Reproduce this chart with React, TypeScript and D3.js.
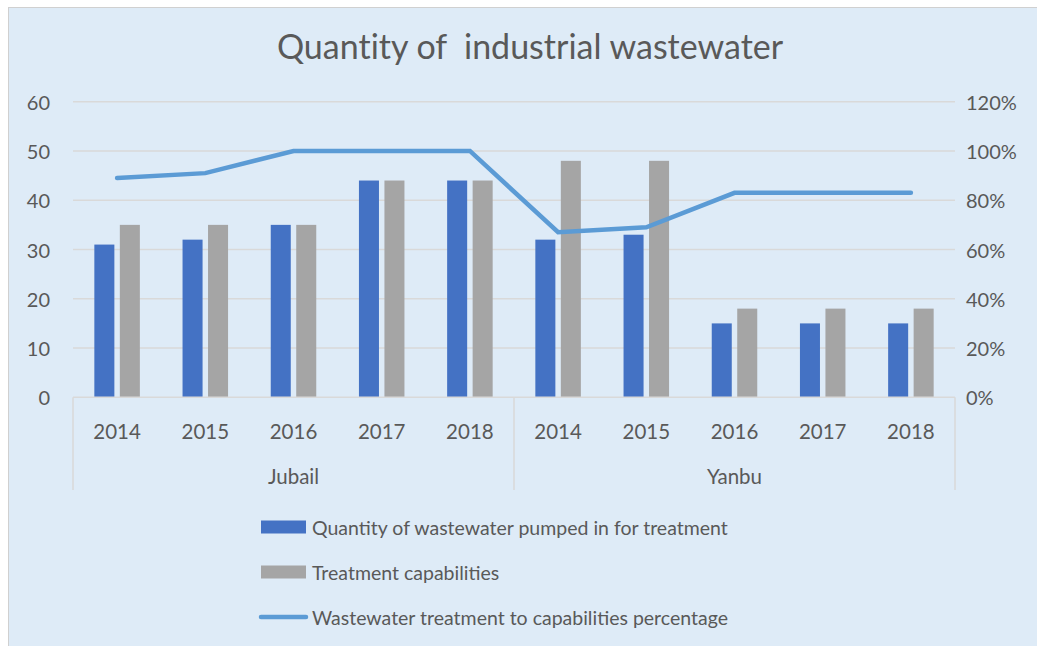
import { useEffect, useRef } from "react";
import * as d3 from "d3";

// data
const GROUPS = ["Jubail", "Yanbu"];
const YEARS = ["2014", "2015", "2016", "2017", "2018"];
const PUMPED = [31, 32, 35, 44, 44, 32, 33, 15, 15, 15];
const CAPACITY = [35, 35, 35, 44, 44, 48, 48, 18, 18, 18];
const RATIO = [0.89, 0.91, 1, 1, 1, 0.67, 0.69, 0.83, 0.83, 0.83];
const Y_TICKS = [0, 10, 20, 30, 40, 50, 60];
const Y2_TICKS = [0, 0.2, 0.4, 0.6, 0.8, 1.0, 1.2];

const SERIES_NAMES = [
  "Quantity of wastewater pumped in for treatment",
  "Treatment capabilities",
  "Wastewater treatment to capabilities percentage",
];

const W = 1037;
const H = 646;
const LEFT = 73;
const RIGHT = 955;
const TOP = 101.7;
const BOTTOM = 397.3;

const BLUE = "#4472C4";
const GRAY = "#A5A5A5";
const LINE = "#5B9BD5";
const BG = "#DEEBF7";
const GRID = "#D9D9D9";
const TEXT = "#595959";
const FONT = "Lato, 'Open Sans', sans-serif";

export default function App() {
  const svgRef = useRef<SVGSVGElement>(null);

  useEffect(() => {
    if (!svgRef.current) return;
    const svg = d3.select(svgRef.current);
    svg.selectAll("*").remove();

    const keys = GROUPS.flatMap((g) => YEARS.map((y) => `${g}-${y}`));

    const x = d3.scaleBand<string>().domain(keys).range([LEFT, RIGHT]);
    const y = d3.scaleLinear().domain([0, 60]).range([BOTTOM, TOP]);
    const y2 = d3.scaleLinear().domain([0, 1.2]).range([BOTTOM, TOP]);

    // 背景
    svg.append("rect")
      .attr("x", 8.5).attr("y", 7.5)
      .attr("width", W).attr("height", H)
      .attr("fill", BG).attr("stroke", "#D0D0D0").attr("stroke-width", 1);

    // タイトル
    svg.append("text")
      .attr("x", 530).attr("y", 59)
      .attr("text-anchor", "middle")
      .attr("font-family", FONT).attr("font-size", 34)
      .attr("fill", TEXT)
      .style("white-space", "pre")
      .style("font-variant-ligatures", "none")
      .text("Quantity of  industrial wastewater");

    // グリッド
    Y_TICKS.forEach((t) => {
      if (t === 0) return;
      svg.append("line")
        .attr("x1", LEFT).attr("x2", RIGHT)
        .attr("y1", y(t)).attr("y2", y(t))
        .attr("stroke", GRID).attr("stroke-width", 1.5);
    });

    // 左軸ラベル
    Y_TICKS.forEach((t) => {
      svg.append("text")
        .attr("x", 50).attr("y", y(t))
        .attr("text-anchor", "end").attr("dominant-baseline", "central")
        .attr("font-family", FONT).attr("font-size", 20).attr("fill", TEXT)
        .text(String(t));
    });

    // 右軸ラベル
    Y2_TICKS.forEach((t) => {
      svg.append("text")
        .attr("x", 966).attr("y", y2(t))
        .attr("text-anchor", "start").attr("dominant-baseline", "central")
        .attr("font-family", FONT).attr("font-size", 20).attr("fill", TEXT)
        .text(d3.format(".0%")(t));
    });

    // 棒
    const bw = x.bandwidth() * 0.227;
    const inner = x.bandwidth() * 0.062;
    keys.forEach((k, i) => {
      const c = (x(k) as number) + x.bandwidth() / 2;
      svg.append("rect")
        .attr("x", c - inner / 2 - bw).attr("y", y(PUMPED[i]))
        .attr("width", bw).attr("height", y(0) - y(PUMPED[i]))
        .attr("fill", BLUE);
      svg.append("rect")
        .attr("x", c + inner / 2).attr("y", y(CAPACITY[i]))
        .attr("width", bw).attr("height", y(0) - y(CAPACITY[i]))
        .attr("fill", GRAY);
    });

    // 折れ線
    const line = d3.line<number>()
      .x((_, i) => (x(keys[i]) as number) + x.bandwidth() / 2)
      .y((d) => y2(d));
    svg.append("path")
      .attr("d", line(RATIO) as string)
      .attr("fill", "none").attr("stroke", LINE)
      .attr("stroke-width", 4.5)
      .attr("stroke-linecap", "round").attr("stroke-linejoin", "miter");

    // カテゴリ軸
    svg.append("line")
      .attr("x1", LEFT).attr("x2", RIGHT)
      .attr("y1", BOTTOM).attr("y2", BOTTOM)
      .attr("stroke", GRID).attr("stroke-width", 1.5);
    [0, 5, 10].forEach((i) => {
      const xx = i < 10 ? (x(keys[i]) as number) : RIGHT;
      svg.append("line")
        .attr("x1", xx).attr("x2", xx)
        .attr("y1", BOTTOM).attr("y2", 490)
        .attr("stroke", GRID).attr("stroke-width", 1.5);
    });
    keys.forEach((k, i) => {
      svg.append("text")
        .attr("x", (x(k) as number) + x.bandwidth() / 2).attr("y", 431)
        .attr("text-anchor", "middle").attr("dominant-baseline", "central")
        .attr("font-family", FONT).attr("font-size", 20.5).attr("fill", TEXT)
        .text(YEARS[i % 5]);
    });
    GROUPS.forEach((g, gi) => {
      const a = x(keys[gi * 5]) as number;
      const b = (x(keys[gi * 5 + 4]) as number) + x.bandwidth();
      svg.append("text")
        .attr("x", (a + b) / 2).attr("y", 476)
        .attr("text-anchor", "middle").attr("dominant-baseline", "central")
        .attr("font-family", FONT).attr("font-size", 20.5).attr("fill", TEXT)
        .text(g);
    });

    // 凡例
    const legY = [527, 572, 617];
    svg.append("rect").attr("x", 261).attr("y", legY[0] - 6.5)
      .attr("width", 45).attr("height", 13).attr("fill", BLUE);
    svg.append("rect").attr("x", 261).attr("y", legY[1] - 6.5)
      .attr("width", 45).attr("height", 13).attr("fill", GRAY);
    svg.append("line").attr("x1", 261).attr("x2", 306)
      .attr("y1", legY[2]).attr("y2", legY[2])
      .attr("stroke", LINE).attr("stroke-width", 4.5).attr("stroke-linecap", "round");
    SERIES_NAMES.forEach((n, i) => {
      svg.append("text")
        .attr("x", 312).attr("y", legY[i])
        .attr("dominant-baseline", "central")
        .attr("font-family", FONT).attr("font-size", 19.5).attr("fill", TEXT)
        .text(n);
    });
  }, []);

  return (
    <svg
      ref={svgRef}
      width={W}
      height={H}
      viewBox={`0 0 ${W} ${H}`}
      style={{ position: "absolute", left: 0, top: 0, display: "block" }}
    />
  );
}
